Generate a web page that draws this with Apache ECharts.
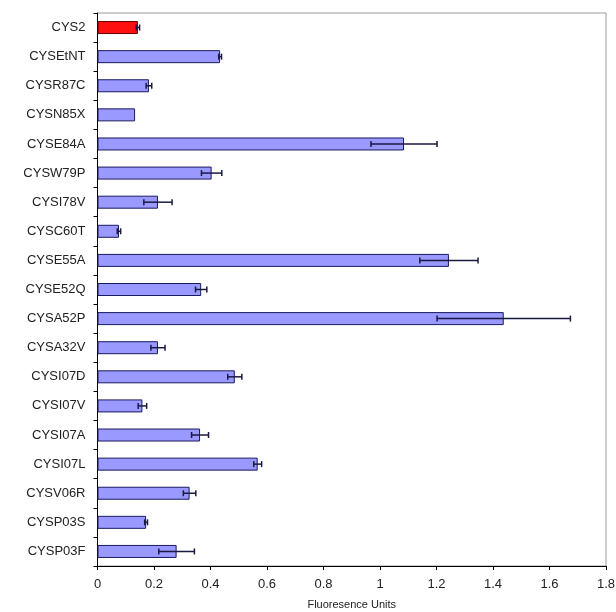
<!DOCTYPE html>
<html><head><meta charset="utf-8">
<script src="https://cdn.jsdelivr.net/npm/echarts@6/dist/echarts.min.js"></script>
<style>html,body{margin:0;padding:0;background:#fff}#c{width:616px;height:612px}</style>
</head><body><div id="c"></div>
<script>
const categories = ['CYS2','CYSEtNT','CYSR87C','CYSN85X','CYSE84A','CYSW79P','CYSI78V','CYSC60T','CYSE55A','CYSE52Q','CYSA52P','CYSA32V','CYSI07D','CYSI07V','CYSI07A','CYSI07L','CYSV06R','CYSP03S','CYSP03F'];
const values = [0.143,0.434,0.182,0.133,1.085,0.404,0.214,0.076,1.244,0.367,1.438,0.214,0.486,0.159,0.363,0.567,0.326,0.172,0.280];
const errors = [0.006,0.005,0.01,0,0.117,0.036,0.05,0.006,0.103,0.02,0.236,0.025,0.025,0.015,0.03,0.014,0.022,0.005,0.063];
const xTicks = [0,0.2,0.4,0.6,0.8,1,1.2,1.4,1.6,1.8];

const chart = echarts.init(document.getElementById('c'));
const font = 'Liberation Sans, Arial, sans-serif';
chart.setOption({
  animation:false,
  grid:{left:97.5,right:10,top:13,bottom:46,show:true,borderColor:'#9a9a9a',borderWidth:1,containLabel:false,outerBoundsMode:'none'},
  xAxis:{type:'value',min:xTicks[0],max:xTicks[xTicks.length-1],interval:0.2,
    name:'Fluoresence Units',nameLocation:'middle',nameGap:33,
    nameTextStyle:{fontFamily:font,fontSize:11,color:'#222'},
    axisLine:{show:true,lineStyle:{color:'#000',width:1}},
    axisTick:{show:true,length:4,lineStyle:{color:'#000'}},
    axisLabel:{fontFamily:font,fontSize:13,color:'#222',margin:12},
    splitLine:{show:false}},
  yAxis:{type:'category',data:categories,inverse:true,
    axisLine:{show:true,lineStyle:{color:'#000',width:1}},
    axisTick:{show:true,length:4,lineStyle:{color:'#000'}},
    axisLabel:{fontFamily:font,fontSize:13,color:'#222',margin:12}},
  series:[
    {type:'bar',barWidth:13,
     data:values.map((v,i)=>({value:v,itemStyle:{color:i===0?'#ff1010':'#9999ff',borderColor:i===0?'#600000':'#1a1a60',borderWidth:1}}))},
    {type:'custom',
     data:values.map((v,i)=>[i,v-errors[i],v+errors[i]]),
     encode:{y:0,x:[1,2]},
     renderItem:function(params,api){
       const i=api.value(0);
       const lo=api.coord([api.value(1),i]);
       const hi=api.coord([api.value(2),i]);
       const h=3;
       const st={stroke:'#1a1a40',lineWidth:1.5};
       if(api.value(2)-api.value(1)<=0) return {type:'group',children:[]};
       return {type:'group',children:[
         {type:'line',shape:{x1:lo[0],y1:lo[1],x2:hi[0],y2:hi[1]},style:st},
         {type:'line',shape:{x1:lo[0],y1:lo[1]-h,x2:lo[0],y2:lo[1]+h},style:st},
         {type:'line',shape:{x1:hi[0],y1:hi[1]-h,x2:hi[0],y2:hi[1]+h},style:st}
       ]};
     },z:5}
  ]
});
</script></body></html>
